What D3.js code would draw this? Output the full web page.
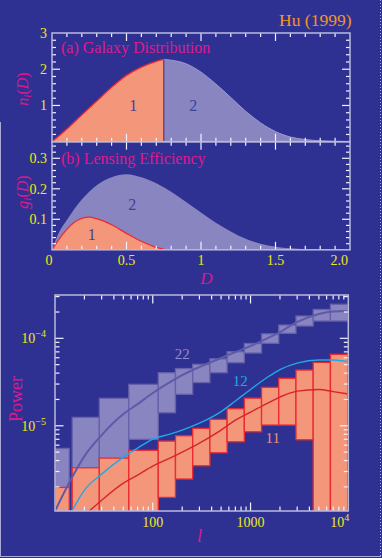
<!DOCTYPE html>
<html><head><meta charset="utf-8">
<script src="https://cdn.jsdelivr.net/npm/d3@7"></script>
<style>
html,body{margin:0;padding:0;background:#2e3192;}
svg{display:block;}
</style></head><body>
<svg id="c" width="382" height="558"></svg>
<script>
// ---------------- DATA ----------------
// (a) galaxy distribution n(D)
const nD   = [0,0.1,0.2,0.3,0.4,0.5,0.6,0.7,0.75,0.8,0.9,1.0,1.1,1.2,1.3,1.4,1.5,1.6,1.7,1.8,1.9,2.0];
const nVal = [0,0.35,0.74,1.12,1.50,1.83,2.06,2.22,2.27,2.25,2.15,1.92,1.59,1.22,0.84,0.52,0.28,0.13,0.06,0.025,0.01,0.003];
const dSplit = 0.75;
// (b) lensing efficiency
const g2D = [0,0.05,0.1,0.2,0.3,0.4,0.5,0.6,0.7,0.8,0.9,1.0,1.1,1.2,1.3,1.4,1.5,1.6,1.7,1.8,1.9,2.0];
const g2  = [0,0.06,0.098,0.165,0.212,0.238,0.248,0.238,0.218,0.19,0.157,0.122,0.089,0.06,0.036,0.02,0.01,0.005,0.002,0.001,0,0];
const g1D = [0,0.05,0.1,0.15,0.2,0.25,0.3,0.4,0.5,0.6,0.7,0.75];
const g1  = [0,0.037,0.067,0.09,0.103,0.107,0.102,0.082,0.054,0.028,0.008,0.002];
// power spectrum bins
const binLo = [10,15,28.4,56.9,113.8,170.7,256,384,576,864,1296,1944,2916,4374,6561];
const binHi = [14,28.4,56.9,113.8,170.7,256,384,576,864,1296,1944,2916,4374,6561,9841];
const p22Hi = [5.51e-6,1.248e-5,2.06e-5,2.98e-5,4.04e-5,4.51e-5,5.05e-5,5.83e-5,7.03e-5,8.72e-5,1.126e-4,1.42e-4,1.80e-4,2.14e-4,2.45e-4];
const p22Lo = [1e-7,1e-7,1e-7,6.99e-6,1.408e-5,2.29e-5,3.12e-5,4.04e-5,5.26e-5,6.79e-5,8.77e-5,1.141e-4,1.382e-4,1.577e-4,1.577e-4];
const p11Hi = [1.973e-6,3.31e-6,4.27e-6,5.24e-6,6.68e-6,7.69e-6,9.34e-6,1.183e-5,1.565e-5,2.07e-5,2.75e-5,3.49e-5,4.34e-5,5.31e-5,6.56e-5];
const p11Lo = [1e-7,1e-7,1e-7,1e-7,1.517e-6,2.46e-6,3.49e-6,4.91e-6,6.56e-6,8.54e-6,1.019e-5,1.019e-5,6.92e-6,1e-7,1e-7];
// model curves
const c22L = [10,15,20,30,50,70,100,150,200,300,500,700,1000,1500,2000,3000,5000,7000,10000];
const c22  = [1.06e-6,2.59e-6,4.50e-6,7.83e-6,1.36e-5,1.77e-5,2.37e-5,3.16e-5,3.80e-5,4.70e-5,5.96e-5,6.97e-5,8.17e-5,1.007e-4,1.18e-4,1.54e-4,1.90e-4,2.03e-4,2.05e-4];
const c12L = [14.5,20,30,50,70,100,150,200,300,500,700,1000,1500,2000,3000,5000,7000,10000];
const c12  = [1.0e-6,1.84e-6,2.80e-6,4.38e-6,5.56e-6,7.05e-6,8.04e-6,8.93e-6,1.07e-5,1.454e-5,1.92e-5,2.60e-5,3.61e-5,4.40e-5,5.21e-5,5.65e-5,5.65e-5,5.40e-5];
const c11L = [22,30,50,70,100,150,200,300,500,700,1000,1500,2000,3000,5000,7000,10000];
const c11  = [1.04e-6,1.41e-6,2.21e-6,2.73e-6,3.46e-6,4.27e-6,5.00e-6,6.34e-6,8.93e-6,1.16e-5,1.43e-5,1.82e-5,2.13e-5,2.49e-5,2.60e-5,2.46e-5,2.31e-5];
// tick labels
const dTickVals = [0,0.5,1,1.5,2];
const dTickLabels = ['0','0.5','1','1.5','2.0'];
const nTickVals = [1,2,3];
const nTickLabels = ['1','2','3'];
const gTickVals = [0.1,0.2,0.3];
const gTickLabels = ['0.1','0.2','0.3'];
const lTickVals = [100,1000,10000];
const lTickLabels = ['100','1000','10^4'];
const pTickVals = [1e-4,1e-5];
const pTickLabels = ['10^-4','10^-5'];

// ---------------- STYLE ----------------
const BG='#2e3192', FRAME='#b9b9de', TICK='#f2f2ff', YEL='#eeea14', MAG='#e0178c';
const SALMON='#f4967a', REDL='#ec2a30', PURF='#8985c0', PURL='#5f5aa7', CYAN='#1fa9e6', RED11='#d8242b';
const serif="'Liberation Serif','DejaVu Serif',serif";

const svg=d3.select('#c');
svg.append('rect').attr('width',382).attr('height',558).attr('fill',BG);
const defs=svg.append('defs');

// scales
const xD=d3.scaleLinear().domain([0,2]).range([52,350]);
const yA=d3.scaleLinear().domain([0,3]).range([141.7,33]);
const yB=d3.scaleLinear().domain([0,0.3544]).range([249.8,141.7]);
const xL=d3.scaleLog().domain([10,1e4]).range([55,348.3]);
const yP=d3.scaleLog().domain([1.06e-6,3.13e-4]).range([511,295]);

function clip(id,x0,x1,y0,y1){
  defs.append('clipPath').attr('id',id).append('rect').attr('x',x0).attr('y',y0).attr('width',x1-x0).attr('height',y1-y0);
}
clip('ca',52,350,33,141.7); clip('cb',52,350,141.7,249.8); clip('cc',55,348.3,295,511);

// -------- panel (a)
const ga=svg.append('g').attr('clip-path','url(#ca)');
const idx1=nD.map((d,i)=>i).filter(i=>nD[i]<=dSplit);
const idx2=nD.map((d,i)=>i).filter(i=>nD[i]>=dSplit);
const areaN=d3.area().x(i=>xD(nD[i])).y0(yA(0)).y1(i=>yA(nVal[i])).curve(d3.curveMonotoneX);
const lineN=d3.line().x(i=>xD(nD[i])).y(i=>yA(nVal[i])).curve(d3.curveMonotoneX);
ga.append('path').attr('d',areaN(idx2)).attr('fill',PURF);
ga.append('path').attr('d',lineN(idx2)).attr('fill','none').attr('stroke','#9b98cf').attr('stroke-width',1);
ga.append('path').attr('d',areaN(idx1)).attr('fill',SALMON);
ga.append('path').attr('d',lineN(idx1)).attr('fill','none').attr('stroke',REDL).attr('stroke-width',1.3);
ga.append('line').attr('x1',xD(dSplit)).attr('x2',xD(dSplit)).attr('y1',yA(0)).attr('y2',yA(nVal[nD.indexOf(dSplit)]))
  .attr('stroke','#6a4a8e').attr('stroke-width',1.5);
ga.append('text').attr('x',xD(0.546)).attr('y',yA(0.85)).attr('text-anchor','middle').attr('font-family',serif).attr('font-size',16).attr('fill','#433f95').text('1');
ga.append('text').attr('x',xD(0.948)).attr('y',yA(0.85)).attr('text-anchor','middle').attr('font-family',serif).attr('font-size',16).attr('fill','#433f95').text('2');

// -------- panel (b)
const gb=svg.append('g').attr('clip-path','url(#cb)');
const areaG2=d3.area().x((d,i)=>xD(g2D[i])).y0(yB(0)).y1(d=>yB(d)).curve(d3.curveMonotoneX);
gb.append('path').attr('d',areaG2(g2)).attr('fill',PURF);
const areaG1=d3.area().x((d,i)=>xD(g1D[i])).y0(yB(0)).y1(d=>yB(d)).curve(d3.curveMonotoneX);
const lineG1=d3.line().x((d,i)=>xD(g1D[i])).y(d=>yB(d)).curve(d3.curveMonotoneX);
gb.append('path').attr('d',areaG1(g1)).attr('fill',SALMON);
gb.append('path').attr('d',lineG1(g1)).attr('fill','none').attr('stroke',REDL).attr('stroke-width',1.3);
gb.append('text').attr('x',xD(0.539)).attr('y',yB(0.13)).attr('text-anchor','middle').attr('font-family',serif).attr('font-size',16).attr('fill','#433f95').text('2');
gb.append('text').attr('x',xD(0.266)).attr('y',yB(0.032)).attr('text-anchor','middle').attr('font-family',serif).attr('font-size',16).attr('fill','#433f95').text('1');

// -------- panel (c)
const gc=svg.append('g').attr('clip-path','url(#cc)');
binLo.forEach((lo,i)=>{
  gc.append('rect').attr('x',xL(lo)).attr('width',xL(binHi[i])-xL(lo))
    .attr('y',yP(p22Hi[i])).attr('height',yP(p22Lo[i])-yP(p22Hi[i]))
    .attr('fill',PURF).attr('stroke','#6661aa').attr('stroke-width',1.3);
});
binLo.forEach((lo,i)=>{
  gc.append('rect').attr('x',xL(lo)).attr('width',xL(binHi[i])-xL(lo))
    .attr('y',yP(p11Hi[i])).attr('height',yP(p11Lo[i])-yP(p11Hi[i]))
    .attr('fill',SALMON).attr('stroke',REDL).attr('stroke-width',1.3);
});
function curve(L,P,col,w){
  const ln=d3.line().x((d,i)=>xL(L[i])).y(d=>yP(d)).curve(d3.curveMonotoneX);
  gc.append('path').attr('d',ln(P)).attr('fill','none').attr('stroke',col).attr('stroke-width',w);
}
curve(c22L,c22,PURL,2);
curve(c12L,c12,CYAN,1.4);
curve(c11L,c11,RED11,1.4);
function lab(l,p,txt,col){
  gc.append('text').attr('x',xL(l)).attr('y',yP(p)).attr('text-anchor','middle').attr('font-family',serif).attr('font-size',15).attr('fill',col).text(txt);
}
lab(200,5.75e-5,'22','#908cc8');
lab(787,2.85e-5,'12',CYAN);
lab(1690,6.4e-6,'11','#e5917c');

// -------- frames & ticks
function tick(x1,y1,x2,y2,col){svg.append('line').attr('x1',x1).attr('y1',y1).attr('x2',x2).attr('y2',y2).attr('stroke',col||TICK).attr('stroke-width',1.2);}
function frame(sx,sy,xt,yt,box,ml,mj){
  const [L,R,T,B]=box;
  xt.forEach(t=>{const x=sx(t.v),len=t.m?mj:ml; tick(x,B,x,B-len); tick(x,T,x,T+len);});
  yt.forEach(t=>{const y=sy(t.v),len=t.m?mj:ml; tick(L,y,L+len,y); tick(R,y,R-len,y);});
  svg.append('rect').attr('x',L).attr('y',T).attr('width',R-L).attr('height',B-T).attr('fill','none').attr('stroke',FRAME).attr('stroke-width',1.5);
}
const xtD=d3.range(1,20).map(i=>({v:i/10,m:i%5===0}));
const ytA=d3.range(1,15).map(i=>({v:i/5,m:i%5===0}));
const ytB=d3.range(1,18).map(i=>({v:i/50,m:i%5===0}));
frame(xD,yA,xtD,ytA,[52,350,33,141.7],4,8);
frame(xD,yB,xtD,ytB,[52,350,141.7,249.8],4,8);
const xtL=[]; [10,100,1000].forEach(dec=>{for(let k=1;k<10;k++){const v=dec*k; if(v>10&&v<1e4) xtL.push({v,m:k===1});}});
const ytP=[]; [1e-6,1e-5,1e-4].forEach(dec=>{for(let k=1;k<10;k++){const v=dec*k; if(v>1.06e-6&&v<3.13e-4) ytP.push({v,m:k===1});}});
frame(xL,yP,xtL,ytP,[55,348.3,295,511],4.5,8.5);

// -------- tick labels
function txt(x,y,s,opt){
  const t=svg.append('text').attr('x',x).attr('y',y).attr('font-family',serif).attr('font-size',opt.fs||14)
    .attr('fill',opt.col||YEL).attr('text-anchor',opt.anchor||'middle');
  if(opt.italic) t.attr('font-style','italic');
  if(opt.rot) t.attr('transform',`rotate(-90,${x},${y})`);
  return t;
}
dTickVals.forEach((v,i)=>{
  let x=xD(v), a='middle';
  if(i===0) x-=3;
  if(i===dTickVals.length-1){x-=2;a='end';}
  txt(x,264.5,'',{anchor:a}).text(dTickLabels[i]);
});
nTickVals.forEach((v,i)=>txt(47,yA(v)+5,'',{anchor:'end'}).text(nTickLabels[i]));
gTickVals.forEach((v,i)=>txt(47,yB(v)+5,'',{anchor:'end'}).text(gTickLabels[i]));
lTickVals.forEach((v,i)=>{
  const s=lTickLabels[i];
  if(s.includes('^')){
    const [b,e]=s.split('^');
    const t=txt(xL(v)+1,527,'',{anchor:'end'});
    t.append('tspan').text(b);
    t.append('tspan').attr('font-size',10).attr('dy',-6).text(e);
  } else txt(xL(v),527,'',{}).text(s);
});
pTickVals.forEach((v,i)=>{
  const [b,e]=pTickLabels[i].split('^');
  const t=txt(46,yP(v)+5,'',{anchor:'end'});
  t.append('tspan').text(b);
  t.append('tspan').attr('font-size',10).attr('dy',-6).text(e.replace('-','\u2212'));
});

// -------- titles
txt(351.5,26,'',{fs:17.5,col:'#f7941d',anchor:'end'}).text('Hu (1999)');
txt(61,53.3,'',{fs:16,col:MAG,anchor:'start'}).text('(a) Galaxy Distribution');
txt(61,164,'',{fs:16,col:MAG,anchor:'start'}).text('(b) Lensing Efficiency');
txt(206.5,283.5,'',{fs:17,col:MAG,italic:true}).text('D');
txt(199.5,541.5,'',{fs:18,col:MAG,italic:true}).text('l');
txt(21.5,399,'',{fs:18,col:MAG,rot:true}).text('Power');
function ylab(x,y,sym){
  const t=txt(x,y,'',{fs:16,col:MAG,rot:true});
  t.append('tspan').attr('font-style','italic').text(sym);
  t.append('tspan').attr('font-style','italic').attr('font-size',11).attr('dy',3).text('i');
  t.append('tspan').attr('dy',-3).text('(');
  t.append('tspan').attr('font-style','italic').text('D');
  t.append('tspan').text(')');
}
ylab(28,89,'n');
ylab(28,192,'g');

// outer border
svg.append('line').attr('x1',0.5).attr('x2',0.5).attr('y1',122).attr('y2',557).attr('stroke','#a9abd6').attr('stroke-width',1);
svg.append('line').attr('x1',0).attr('x2',381).attr('y1',556.5).attr('y2',556.5).attr('stroke','#a9abd6').attr('stroke-width',1);
svg.append('line').attr('x1',380.5).attr('x2',380.5).attr('y1',0).attr('y2',557).attr('stroke','#a9abd6').attr('stroke-width',1).attr('stroke-dasharray','1,2');
</script>
</body></html>
